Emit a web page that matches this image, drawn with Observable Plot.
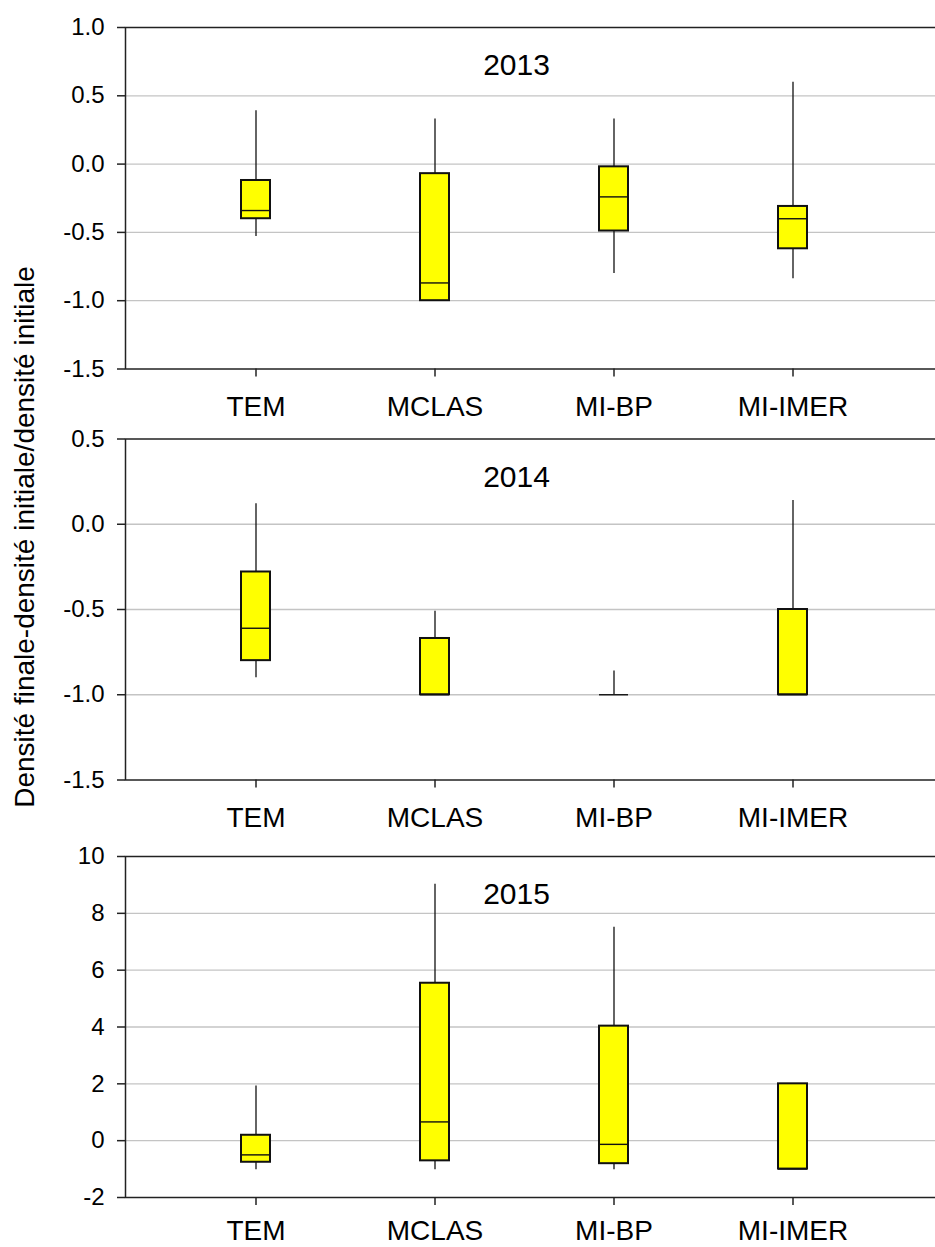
<!DOCTYPE html>
<html>
<head>
<meta charset="utf-8">
<script src="https://cdn.jsdelivr.net/npm/d3@7"></script>
<script src="https://cdn.jsdelivr.net/npm/@observablehq/plot@0.6"></script>
<style>
  html, body { margin: 0; padding: 0; background: #fff; overflow: hidden; }
  #wrap { position: relative; width: 935px; height: 1247px; font-family: "Liberation Sans", Arial, sans-serif; }
  #wrap svg { display: block; }
  #ylabel { position: absolute; left: 25px; top: 537px; transform: translate(-50%, -50%) rotate(-90deg);
            white-space: nowrap; font-size: 28px; color: #000; z-index: 2; }
</style>
</head>
<body>
<div id="wrap"><div id="ylabel">Densité finale-densité initiale/densité initiale</div></div>
<script>
// ---- data ----
const categories = ["TEM", "MCLAS", "MI-BP", "MI-IMER"];
const years = ["2013", "2014", "2015"];

// 2013
const low2013    = [-0.53, -1.00, -0.80, -0.84];
const q1_2013    = [-0.40, -1.00, -0.49, -0.62];
const median2013 = [-0.34, -0.87, -0.24, -0.40];
const q3_2013    = [-0.12, -0.07, -0.02, -0.31];
const high2013   = [ 0.39,  0.33,  0.33,  0.60];

// 2014
const low2014    = [-0.90, -1.00, -1.00, -1.00];
const q1_2014    = [-0.80, -1.00, -1.00, -1.00];
const median2014 = [-0.61, -1.00, -1.00, -1.00];
const q3_2014    = [-0.28, -0.67, -1.00, -0.50];
const high2014   = [ 0.12, -0.51, -0.86,  0.14];

// 2015
const low2015    = [-1.02, -1.02, -1.02, -1.00];
const q1_2015    = [-0.76, -0.71, -0.81, -1.00];
const median2015 = [-0.50,  0.66, -0.13, -1.00];
const q3_2015    = [ 0.19,  5.54,  4.03,  2.00];
const high2015   = [ 1.92,  9.02,  7.51,  2.00];

// y-axis ticks (tick labels)
const yTicks2013 = [-1.5, -1.0, -0.5, 0.0, 0.5, 1.0];
const yTicks2014 = [-1.5, -1.0, -0.5, 0.0, 0.5];
const yTicks2015 = [-2, 0, 2, 4, 6, 8, 10];

// ---- build panels ----
const panels = [
  {year: years[0], lo: low2013, q1: q1_2013, med: median2013, q3: q3_2013, hi: high2013, ticks: yTicks2013,
   fmt: d => d.toFixed(1), height: 425, mt: 27, mb: 56.5, pad: 19},
  {year: years[1], lo: low2014, q1: q1_2014, med: median2014, q3: q3_2014, hi: high2014, ticks: yTicks2014,
   fmt: d => d.toFixed(1), height: 408, mt: 13.5, mb: 53.5, pad: 19},
  {year: years[2], lo: low2015, q1: q1_2015, med: median2015, q3: q3_2015, hi: high2015, ticks: yTicks2015,
   fmt: d => String(d), height: 414, mt: 23, mb: 50, pad: 15}
];

const FONT = '"Liberation Sans", Arial, sans-serif';

function panel(p) {
  const rows = categories.map((c, i) => ({cat: c, lo: p.lo[i], q1: p.q1[i], med: p.med[i], q3: p.q3[i], hi: p.hi[i]}));
  const gridTicks = p.ticks.slice(1, -1);
  return Plot.plot({
    width: 935,
    height: p.height,
    marginLeft: 125,
    marginRight: -6,
    marginTop: p.mt,
    marginBottom: p.mb,
    style: {fontFamily: FONT, fontSize: "24px", color: "#000", background: "#fff", maxWidth: "none", overflow: "hidden"},
    x: {type: "band", domain: categories, range: [165.25, 883.25], paddingInner: 0.836, paddingOuter: 0.418, align: 0.5, label: null},
    y: {domain: [p.ticks[0], p.ticks[p.ticks.length - 1]], label: null},
    marks: [
      Plot.gridY(gridTicks, {stroke: "#c4c4c4", strokeOpacity: 1, strokeWidth: 1.3}),
      Plot.ruleX(rows, {x: "cat", y1: "lo", y2: "hi", stroke: "#111", strokeWidth: 1.3}),
      Plot.barY(rows, {x: "cat", y1: "q1", y2: "q3", fill: "#ffff00", stroke: "#111", strokeWidth: 2}),
      Plot.tickY(rows, {x: "cat", y: "med", stroke: "#111", strokeWidth: 1.4}),
      Plot.frame({stroke: "#222", strokeWidth: 1.5}),
      Plot.axisY(p.ticks, {tickSize: 8, tickPadding: 13, tickFormat: p.fmt, fontSize: 24, stroke: "#222", strokeWidth: 1.5, label: null}),
      Plot.axisX({tickSize: 8, tickPadding: p.pad, fontSize: 28, stroke: "#222", strokeWidth: 1.5, label: null}),
      Plot.text([p.year], {text: d => d, frameAnchor: "top", dx: -17, dy: 38, fontSize: 30, lineAnchor: "middle"})
    ]
  });
}

const wrap = document.getElementById("wrap");
for (const p of panels) wrap.appendChild(panel(p));
</script>
</body>
</html>
